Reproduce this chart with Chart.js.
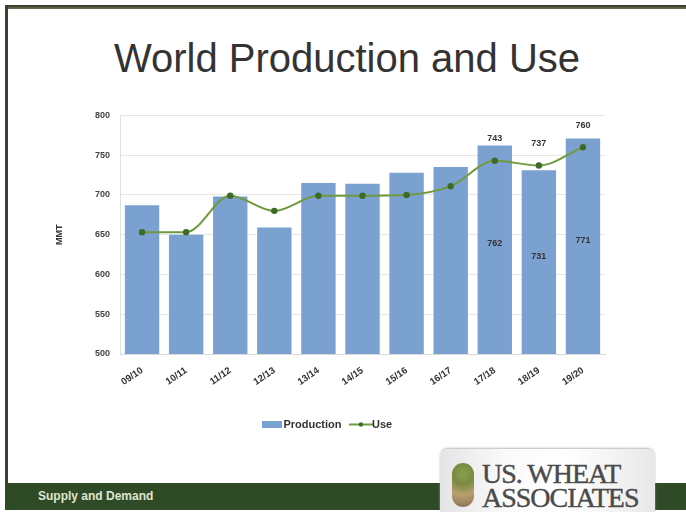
<!DOCTYPE html>
<html><head><meta charset="utf-8">
<script src="https://cdn.jsdelivr.net/npm/chart.js@4"></script>
<style>
html,body{margin:0;padding:0;background:#fff;width:686px;height:514px;overflow:hidden;font-family:"Liberation Sans",Arial,sans-serif}
#frameTop{position:absolute;left:5px;top:5px;width:681px;height:4px;background:linear-gradient(#2e3522,#6b7158)}
#frameLeft{position:absolute;left:5px;top:5px;width:3px;height:480px;background:#3a4030}
#title{position:absolute;left:0;width:694px;top:36px;text-align:center;font-size:40px;color:#333;letter-spacing:0px}
#wrap{position:absolute;left:54px;top:100px;width:586px;height:340px}
#footer{position:absolute;left:5px;top:483px;width:681px;height:27px;background:#2f4a26}
#footer span{position:absolute;left:33px;top:6px;color:#dfe6cf;font-size:12px;font-weight:bold}
#logo{position:absolute;left:440px;top:449px;width:215px;height:63px;border-radius:8px 8px 0 0;background:linear-gradient(90deg,#e4e4e4,#fafafa 30%,#ffffff 60%,#e8e8e8);box-shadow:0 -1px 2px #bbb}
#logo .t{position:absolute;left:42px;font-family:"Liberation Serif","DejaVu Serif",serif;color:#4a4a4a;letter-spacing:-1px;-webkit-text-stroke:0.4px #4a4a4a}
#logo .ic{position:absolute;left:12px;top:14px;width:22px;height:44px;border-radius:11px;background:radial-gradient(circle at 50% 25%,#8aa050 0,#7a8a40 30%,#b8a070 60%,#8a7050 100%)}
</style></head><body>
<div id="frameTop"></div><div id="frameLeft"></div>
<div id="title">World Production and Use</div>
<div id="wrap"><canvas id="c" width="586" height="340"></canvas></div>
<div id="footer"><span>Supply and Demand</span></div>
<div id="logo"><div class="ic"></div><div class="t" style="top:9px;font-size:28px">US. WHEAT</div><div class="t" style="top:33px;font-size:28px">ASSOCIATES</div></div>
<script>
const categories = ["09/10","10/11","11/12","12/13","13/14","14/15","15/16","16/17","17/18","18/19","19/20"];
const production = [687, 650, 698, 659, 715, 714, 728, 735, 762, 731, 771];
const use = [653, 653, 699, 680, 699, 699, 700, 711, 743, 737, 760];
const labeledFrom = 8; // last three seasons carry data labels
const yTicks = [500, 550, 600, 650, 700, 750, 800];

const barColor = "#7ba1d0";
const lineColor = "#6f9a3c";
const pointColor = "#3f6a2c";

function makeIcon(kind){
  const cv = document.createElement("canvas");
  if(kind==="bar"){cv.width=20;cv.height=7;const g=cv.getContext("2d");g.fillStyle=barColor;g.fillRect(0,0,20,7);}
  else {cv.width=24;cv.height=7;const g=cv.getContext("2d");g.strokeStyle=lineColor;g.lineWidth=2;g.beginPath();g.moveTo(0,3.5);g.lineTo(24,3.5);g.stroke();g.fillStyle=pointColor;g.beginPath();g.arc(12,3.5,2.2,0,Math.PI*2);g.fill();}
  return cv;
}
const icons = [makeIcon("bar"), makeIcon("line")];

const labelPlugin = {
  id:"labels",
  afterDatasetsDraw(chart){
    const ctx = chart.ctx;
    const ys = chart.scales.y;
    ctx.save();
    ctx.font = "bold 9px 'Liberation Sans', Arial, sans-serif";
    ctx.fillStyle = "#333";
    ctx.textAlign = "center";
    ctx.textBaseline = "middle";
    const barMeta = chart.getDatasetMeta(0);
    const lineMeta = chart.getDatasetMeta(1);
    const bottom = ys.getPixelForValue(ys.min);
    for(let i=labeledFrom;i<categories.length;i++){
      const b = barMeta.data[i];
      const top = ys.getPixelForValue(production[i]);
      ctx.fillText(String(production[i]), b.x, (top + bottom)/2 - 6);
      const p = lineMeta.data[i];
      ctx.fillText(String(use[i]), p.x, ys.getPixelForValue(use[i]) - 22);
    }
    ctx.restore();
  }
};

new Chart(document.getElementById("c"), {
  data:{
    labels:categories,
    datasets:[
      {type:"bar", label:"Production", data:production, backgroundColor:barColor, barPercentage:0.78, categoryPercentage:1.0, order:2},
      {type:"line", label:"Use", data:use, borderColor:lineColor, borderWidth:2, pointBackgroundColor:pointColor, pointBorderColor:pointColor, pointRadius:2.2, cubicInterpolationMode:"monotone", order:1}
    ]
  },
  options:{
    responsive:false, animation:false,
    layout:{padding:{top:11,right:35,left:0,bottom:0}},
    plugins:{
      tooltip:{enabled:false},
      legend:{position:"bottom", labels:{usePointStyle:true, boxHeight:7, padding:14, color:"#333", font:{size:11,weight:"bold",family:"'Liberation Sans', Arial, sans-serif"},
        generateLabels(chart){
          return chart.data.datasets.map((d,i)=>({text:d.label, pointStyle:icons[i], fillStyle:"#000", strokeStyle:"#000", lineWidth:0, datasetIndex:i, fontColor:"#333"}));
        }}}
    },
    scales:{
      x:{grid:{display:false}, border:{color:"#d8d8d8"},
        ticks:{maxRotation:34,minRotation:34, color:"#333", font:{size:9.5,weight:"bold",family:"'Liberation Sans', Arial, sans-serif"}},
        afterFit(s){s.height=51;}},
      y:{min:500,max:800, border:{color:"#e0e0e0"},
        grid:{color:"#e6e6e6", drawTicks:false},
        afterBuildTicks(s){s.ticks = yTicks.map(v=>({value:v}));},
        ticks:{color:"#444", padding:10, font:{size:9,weight:"bold",family:"'Liberation Sans', Arial, sans-serif"}},
        title:{display:true,text:"MMT",color:"#333",padding:{top:0,bottom:6},font:{size:9,weight:"bold",family:"'Liberation Sans', Arial, sans-serif"}},
        afterFit(s){s.width=66;}}
    }
  },
  plugins:[labelPlugin]
});
</script>
</body></html>
